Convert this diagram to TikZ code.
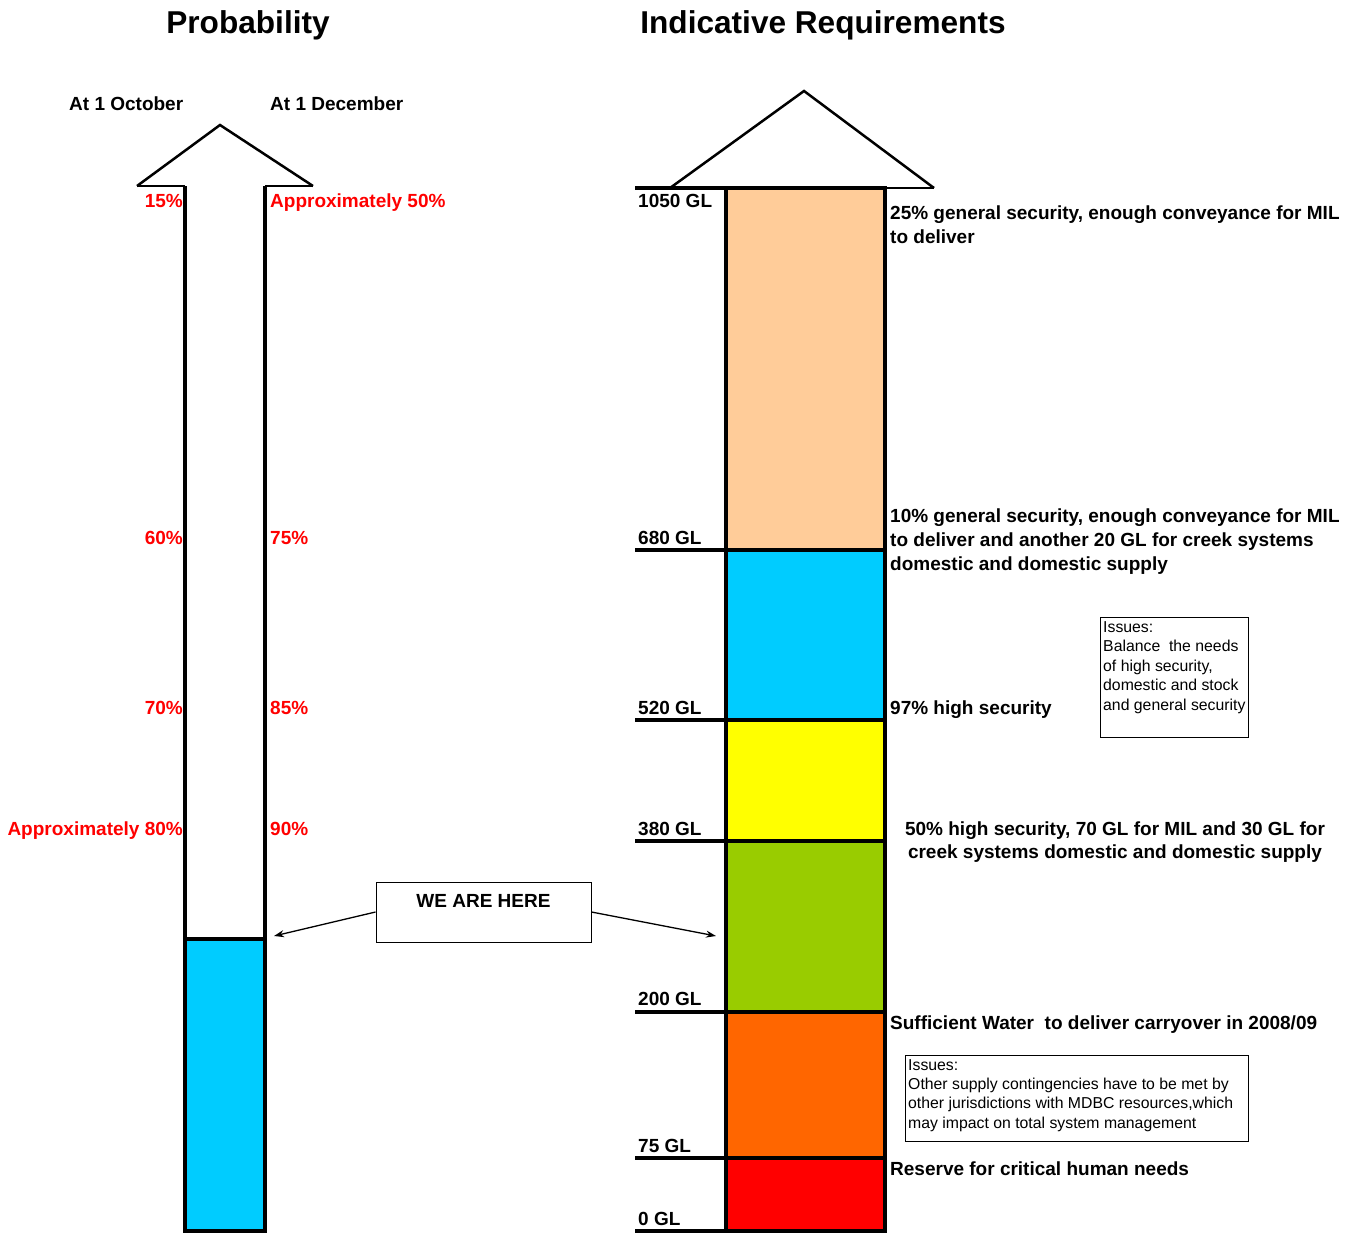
\documentclass[tikz,border=0pt]{standalone}
\usepackage{fontspec}
\setmainfont{Liberation Sans}
\usetikzlibrary{arrows.meta}
\definecolor{peach}{HTML}{FFCC99}
\definecolor{skyb}{HTML}{00CCFF}
\definecolor{yell}{HTML}{FFFF00}
\definecolor{grn}{HTML}{99CC00}
\definecolor{orng}{HTML}{FF6600}
\definecolor{redd}{HTML}{FF0000}
\begin{document}
\begin{tikzpicture}[x=1pt,y=-1pt,
  heavy/.style={line width=4pt},
  headline/.style={line width=2.5pt, line join=miter},
  baseline1/.style={line width=1.5pt},
  lab/.style={font=\bfseries\fontsize{19}{22}\selectfont, inner sep=0pt},
  redlab/.style={lab, text=redd},
  issuetxt/.style={font=\fontsize{15.8}{19}\selectfont, inner sep=0pt, anchor=base west},
  issuebox/.style={draw, line width=1pt, inner sep=0pt},
  ttl/.style={font=\bfseries\fontsize{31.6}{36}\selectfont, inner sep=0pt, anchor=base},
  pointer/.style={line width=1.3pt, -{Stealth[length=10pt, width=7pt]}}
  ]
\useasboundingbox[fill=white] (0,0) rectangle (1357,1234);

% titles
\node[ttl] (t1) at (248,33) {Probability};
\node[ttl] (t2) at (823,33) {Indicative Requirements};

% column headers
\node[lab, anchor=base west] (oct) at (69,110) {At 1 October};
\node[lab, anchor=base west] (dec) at (270,110) {At 1 December};

% left arrow
\fill[skyb] (185,939) rectangle (265,1231);
\draw[baseline1] (137,186) -- (185,186);
\draw[baseline1] (265,186) -- (313,186);
\draw[headline] (137,186) -- (220,125) -- (313,186);
\draw[heavy, line join=miter] (185,186) -- (185,1231) -- (265,1231) -- (265,186);
\draw[heavy] (185,939) -- (265,939);

% red labels left
\node[redlab, anchor=base east] (p15) at (183,207) {15\%};
\node[redlab, anchor=base west] (p50) at (270,207) {Approximately 50\%};
\node[redlab, anchor=base east] (p60) at (183,544) {60\%};
\node[redlab, anchor=base west] (p75) at (270,544) {75\%};
\node[redlab, anchor=base east] (p70) at (183,714) {70\%};
\node[redlab, anchor=base west] (p85) at (270,714) {85\%};
\node[redlab, anchor=base east] (p80) at (183,835) {Approximately 80\%};
\node[redlab, anchor=base west] (p90) at (270,835) {90\%};

% right column
\fill[peach] (726,188) rectangle (885,550);
\fill[skyb] (726,550) rectangle (885,720);
\fill[yell] (726,720) rectangle (885,841);
\fill[grn] (726,841) rectangle (885,1012);
\fill[orng] (726,1012) rectangle (885,1158);
\fill[redd] (726,1158) rectangle (885,1231);
\draw[headline] (670,188) -- (804,91) -- (934,188);
\draw[baseline1] (885,188) -- (934,188);
\draw[heavy, line join=miter] (726,188) rectangle (885,1231);
\foreach \yy in {188,550,720,841,1012,1158,1231}
  \draw[heavy] (635,\yy) -- (885,\yy);

% GL labels
\node[lab, anchor=base west] (g1050) at (638,207) {1050 GL};
\node[lab, anchor=base west] (g680) at (638,544) {680 GL};
\node[lab, anchor=base west] (g520) at (638,714) {520 GL};
\node[lab, anchor=base west] (g380) at (638,835) {380 GL};
\node[lab, anchor=base west] (g200) at (638,1005) {200 GL};
\node[lab, anchor=base west] (g75) at (638,1152) {75 GL};
\node[lab, anchor=base west] (g0) at (638,1225) {0 GL};

% right descriptions
\node[lab, anchor=base west] (d1a) at (890,219) {25\% general security, enough conveyance for MIL};
\node[lab, anchor=base west] (d1b) at (890,243) {to deliver};
\node[lab, anchor=base west] (d2a) at (890,522) {10\% general security, enough conveyance for MIL};
\node[lab, anchor=base west] (d2b) at (890,546) {to deliver and another 20 GL for creek systems};
\node[lab, anchor=base west] (d2c) at (890,570) {domestic and domestic supply};
\node[lab, anchor=base west] (d3) at (890,714) {97\% high security};
\node[lab, anchor=base] (d4a) at (1115,835) {50\% high security, 70 GL for MIL and 30 GL for};
\node[lab, anchor=base] (d4b) at (1115,858) {creek systems domestic and domestic supply};
\node[lab, anchor=base west] (d5) at (890,1029) {Sufficient Water\ \ to deliver carryover in 2008/09};
\node[lab, anchor=base west] (d6) at (890,1175) {Reserve for critical human needs};

% issues boxes
\node[issuebox, minimum width=148pt, minimum height=120pt] (iss1) at (1174,677) {};
\node[issuetxt] (i1a) at (1103,632.5) {Issues:};
\node[issuetxt] (i1b) at (1103,651.5) {Balance\ \ the needs};
\node[issuetxt] (i1c) at (1103,671) {of high security,};
\node[issuetxt] (i1d) at (1103,690) {domestic and stock};
\node[issuetxt] (i1e) at (1103,710) {and general security};

\node[issuebox, minimum width=343pt, minimum height=86pt] (iss2) at (1076.5,1098) {};
\node[issuetxt] (i2a) at (908,1070.5) {Issues:};
\node[issuetxt] (i2b) at (908,1089.5) {Other supply contingencies have to be met by};
\node[issuetxt] (i2c) at (908,1108.5) {other jurisdictions with MDBC resources,which};
\node[issuetxt] (i2d) at (908,1128.5) {may impact on total system management};

% we are here
\node[draw, line width=1pt, minimum width=215pt, minimum height=60pt, inner sep=0pt] (here) at (483.5,912) {};
\node[lab, anchor=base] (heretxt) at (483.5,907) {WE ARE HERE};
\coordinate (lefttarget) at (274,936);
\coordinate (righttarget) at (716,936);
\draw[pointer] (here.west) -- (lefttarget);
\draw[pointer] (here.east) -- (righttarget);
\end{tikzpicture}
\end{document}
